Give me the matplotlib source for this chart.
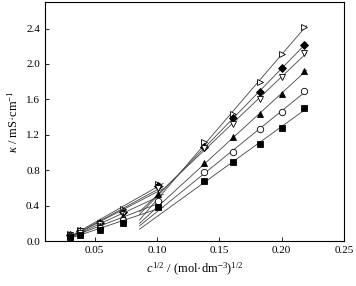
import numpy as np
import matplotlib.pyplot as plt

plt.rcParams["font.family"] = "Liberation Serif"
plt.rcParams["mathtext.fontset"] = "custom"
plt.rcParams["mathtext.rm"] = "Liberation Serif"
plt.rcParams["mathtext.it"] = "Liberation Serif:italic"
plt.rcParams["font.size"] = 8

# sqrt(c) values and conductivity of each series
x = np.array([0.030, 0.038, 0.054, 0.073, 0.101, 0.138, 0.161, 0.183, 0.200, 0.218])
tri_right = [0.08, 0.12, 0.21, 0.36, 0.65, 1.12, 1.44, 1.80, 2.11, 2.42]
diamond = [0.07, 0.11, 0.20, 0.33, 0.62, 1.06, 1.39, 1.68, 1.95, 2.22]
tri_down = [0.07, 0.11, 0.19, 0.31, 0.60, 1.05, 1.32, 1.60, 1.85, 2.12]
tri_up = [0.06, 0.10, 0.17, 0.28, 0.53, 0.88, 1.17, 1.43, 1.66, 1.92]
circle = [0.06, 0.09, 0.15, 0.24, 0.45, 0.78, 1.01, 1.27, 1.46, 1.69]
square = [0.05, 0.07, 0.13, 0.20, 0.39, 0.68, 0.89, 1.10, 1.28, 1.50]

series = [
    (tri_right, ">", "white"),
    (diamond, "D", "black"),
    (tri_down, "v", "white"),
    (tri_up, "^", "black"),
    (circle, "o", "white"),
    (square, "s", "black"),
]

fig = plt.figure(figsize=(3.56, 2.86), dpi=100)
ax = fig.add_axes([0.126, 0.157, 0.840, 0.836])

for y, m, fc in series:
    y = np.array(y)
    # low concentration fit
    p = np.polyfit(x[:5], y[:5], 1)
    xl = np.array([0.030, 0.105])
    ax.plot(xl, np.polyval(p, xl), color="#444444", lw=0.6)
    # high concentration fit
    p = np.polyfit(x[5:], y[5:], 1)
    xh = np.array([0.086, 0.220])
    ax.plot(xh, np.polyval(p, xh), color="#444444", lw=0.6)
    ms = 3.8 if m == "D" else 4.6
    ax.plot(x, y, ls="none", marker=m, ms=ms, mfc=fc, mec="black", mew=0.6)

ax.set_xlim(0.01, 0.25)
ax.set_ylim(0, 2.7)
ax.set_xticks([0.05, 0.10, 0.15, 0.20, 0.25])
ax.set_xticklabels(["0.05", "0.10", "0.15", "0.20", "0.25"])
ax.set_yticks(np.arange(0, 2.5, 0.4))
ax.set_yticklabels([f"{v:.1f}" for v in np.arange(0, 2.5, 0.4)])
ax.tick_params(direction="in", length=3, width=0.6)
for s in ax.spines.values():
    s.set_linewidth(0.8)

ax.set_xlabel(r"$\mathit{c}^{1/2}$ / (mol·dm$^{-3}$)$^{1/2}$", fontsize=9)
ax.set_ylabel(r"$\mathit{\kappa}$ / mS·cm$^{-1}$", fontsize=9)

fig.savefig("out.png", dpi=100)
